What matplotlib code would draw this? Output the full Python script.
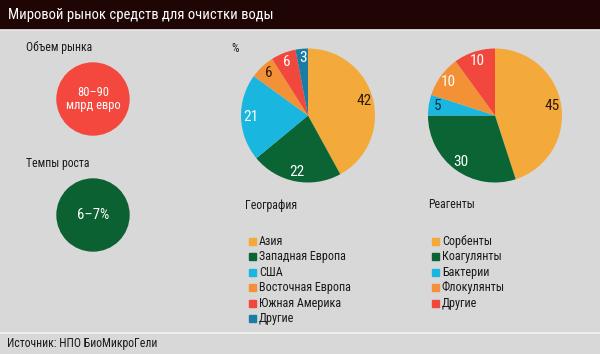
import matplotlib.pyplot as plt
from matplotlib import font_manager
from matplotlib.ft2font import FT2Font
from matplotlib.font_manager import FontProperties
from matplotlib.patches import Circle, Rectangle

# pick the narrowest regular sans font (from the usual families) with all needed glyphs
families = ('DejaVu Sans', 'Liberation Sans', 'Noto Sans', 'Roboto', 'Open Sans', 'Lato', 'Inter')
need = 'Мировойрынксдствляочиаг ЗпЕЮжАмеФлкуъ–%0123456789:'
best, best_w = None, None
for f in font_manager.fontManager.ttflist:
    if not f.name.startswith(families):
        continue
    if f.style != 'normal' or f.weight not in (400, 'normal', 'regular'):
        continue
    if 'CJK' in f.name or 'Mono' in f.name or 'Display' in f.name:
        continue
    try:
        ft = FT2Font(f.fname)
        cmap = ft.get_charmap()
        if not all(ord(c) in cmap for c in set(need.replace(' ', ''))):
            continue
        ft.set_size(20, 72)
        ft.set_text('Западная Европа')
        w = ft.get_width_height()[0]
    except Exception:
        continue
    if best_w is None or w < best_w:
        best, best_w = f.fname, w


def fp(size):
    if best:
        return FontProperties(fname=best, size=size)
    return FontProperties(family='DejaVu Sans', size=size)


# data
geo_labels = ['Азия', 'Западная Европа', 'США', 'Восточная Европа', 'Южная Америка', 'Другие']
geo_values = [42, 22, 21, 6, 6, 3]
geo_colors = ['#f4a93b', '#0b6433', '#19b6df', '#f39136', '#f1473d', '#1c7ca3']
geo_text = ['#2a1a0a', 'white', 'white', '#2a1a0a', 'white', 'white']

reag_labels = ['Сорбенты', 'Коагулянты', 'Бактерии', 'Флокулянты', 'Другие']
reag_values = [45, 30, 5, 10, 10]
reag_colors = ['#f4a93b', '#0b6433', '#19b6df', '#f39136', '#f1473d']
reag_text = ['#2a1a0a', 'white', '#103040', 'white', 'white']

market_volume = '80–90\nмлрд евро'
growth_rate = '6–7%'

W, H = 600, 354
fig = plt.figure(figsize=(6, 3.54), dpi=100, facecolor='#d8d8d8')
bg = fig.add_axes([0, 0, 1, 1])
bg.set_xlim(0, W)
bg.set_ylim(H, 0)
bg.axis('off')

# header and footer
bg.add_patch(Rectangle((0, 0), W, 28.5, color='#1f0503'))
bg.plot([0, W], [29.5, 29.5], color='#f2f2f2', lw=1.2)
bg.plot([0, W], [333, 333], color='#f2f2f2', lw=1.2)
bg.text(8, 15, 'Мировой рынок средств для очистки воды', color='white',
        fontproperties=fp(10.5), va='center', ha='left')
bg.text(7, 344, 'Источник: НПО БиоМикроГели', color='#1a1a1a',
        fontproperties=fp(8.5), va='center', ha='left')

# left panel
bg.text(26, 48, 'Объем рынка', fontproperties=fp(8.5), va='center', color='#1a1a1a')
bg.add_patch(Circle((93, 99), 36, color='#f4473d'))
bg.text(93, 99, market_volume, ha='center', va='center', color='white',
        fontproperties=fp(9), linespacing=1.05)
bg.text(26, 163, 'Темпы роста', fontproperties=fp(8.5), va='center', color='#1a1a1a')
bg.add_patch(Circle((93, 215), 36, color='#0c6133'))
bg.text(93, 215, growth_rate, ha='center', va='center', color='white', fontproperties=fp(10.5))

bg.text(231, 48, '%', fontproperties=fp(8.5), va='center', color='#1a1a1a')


def draw_pie(cx, cy, r, values, colors, tcolors):
    ax = fig.add_axes([(cx - r) / W, (H - cy - r) / H, 2 * r / W, 2 * r / H])
    wedges, texts = ax.pie(values, colors=colors, startangle=90, counterclock=False,
                           labels=[str(v) for v in values], labeldistance=0.86,
                           textprops=dict(fontproperties=fp(11), ha='center', va='center'))
    for t, c in zip(texts, tcolors):
        t.set_color(c)
        t.set_ha('center')
    ax.set_xlim(-1, 1)
    ax.set_ylim(-1, 1)
    ax.set_aspect('equal')
    ax.axis('off')
    return ax


draw_pie(308, 115.5, 67, geo_values, geo_colors, geo_text)
draw_pie(495, 115.5, 67, reag_values, reag_colors, reag_text)


def legend(x, title, labels, colors):
    bg.text(x - 4, 205, title, fontproperties=fp(8.5), va='center', color='#1a1a1a')
    for i, (lab, col) in enumerate(zip(labels, colors)):
        y = 241.5 + i * 15.4
        bg.add_patch(Rectangle((x, y - 3.5), 7, 7, color=col))
        bg.text(x + 10, y, lab, fontproperties=fp(8.7), va='center', color='#1a1a1a')


legend(249, 'География', geo_labels, geo_colors)
legend(432, 'Реагенты', reag_labels, reag_colors)

fig.savefig('out.png', dpi=100, facecolor=fig.get_facecolor())
